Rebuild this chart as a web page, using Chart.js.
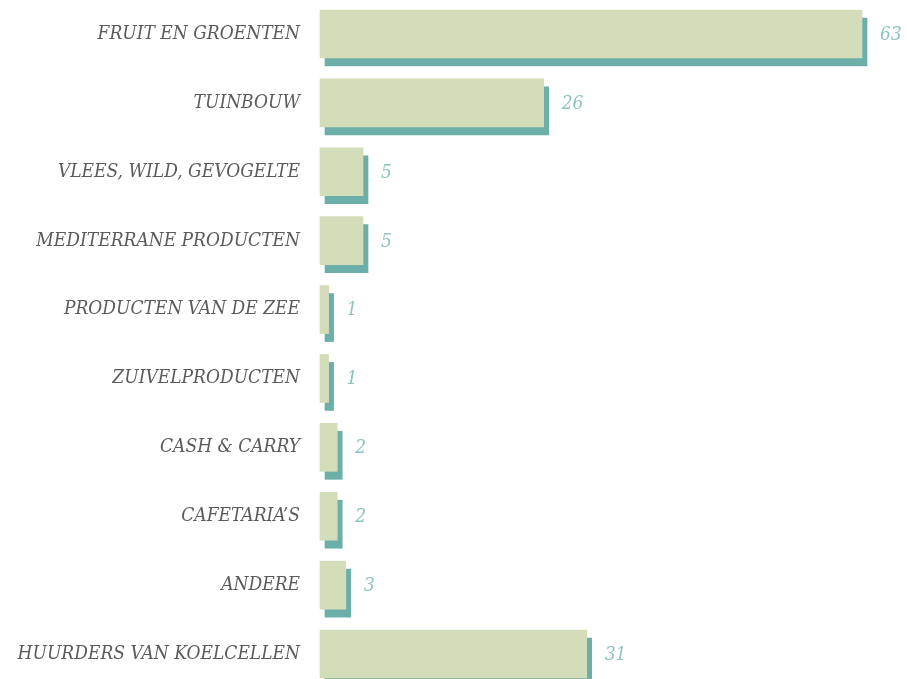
<!DOCTYPE html>
<html>
<head>
<meta charset="utf-8">
<script src="https://cdn.jsdelivr.net/npm/chart.js@4/dist/chart.umd.min.js"></script>
<style>
    html, body { margin: 0; padding: 0; background: #fff; }
    #wrap { width: 907px; height: 679px; }
</style>
</head>
<body>
<div id="wrap"><canvas id="barChart"></canvas></div>
<script>
// categories and counts, top to bottom
const categories = [
    "FRUIT EN GROENTEN",
    "TUINBOUW",
    "VLEES, WILD, GEVOGELTE",
    "MEDITERRANE PRODUCTEN",
    "PRODUCTEN VAN DE ZEE",
    "ZUIVELPRODUCTEN",
    "CASH & CARRY",
    "CAFETARIA\u2019S",
    "ANDERE",
    "HUURDERS VAN KOELCELLEN"
];
const counts = [63, 26, 5, 5, 1, 1, 2, 2, 3, 31];

const barColor = '#d4ddb9';
const shadowColor = '#6cafa9';
const labelColor = '#5b5b5b';
const valueColor = '#8cc4bf';
const fontFamily = "'DejaVu Serif Condensed', 'DejaVu Serif', serif";

// shift the shadow dataset down and to the right
const shadowPlugin = {
    id: 'shadowOffset',
    beforeDatasetDraw(chart, args) {
        if (args.index === 1) {
            chart.ctx.save();
            chart.ctx.translate(5, 8);
        }
    },
    afterDatasetDraw(chart, args) {
        if (args.index === 1) {
            chart.ctx.restore();
        }
    }
};

// value labels at the end of each bar
const valueLabels = {
    id: 'valueLabels',
    afterDatasetsDraw(chart) {
        const ctx = chart.ctx;
        const meta = chart.getDatasetMeta(0);
        ctx.save();
        ctx.font = 'italic 19px ' + fontFamily;
        ctx.fillStyle = valueColor;
        ctx.textAlign = 'left';
        ctx.textBaseline = 'middle';
        meta.data.forEach((bar, i) => {
            ctx.fillText(String(counts[i]), bar.x + 18, bar.y + 1);
        });
        ctx.restore();
    }
};

const ctx = document.getElementById('barChart').getContext('2d');
new Chart(ctx, {
    type: 'bar',
    data: {
        labels: categories,
        datasets: [
            {
                data: counts,
                backgroundColor: barColor,
                barThickness: 48,
                clip: false
            },
            {
                data: counts,
                backgroundColor: shadowColor,
                barThickness: 48,
                clip: false
            }
        ]
    },
    options: {
        indexAxis: 'y',
        responsive: true,
        maintainAspectRatio: false,
        animation: false,
        layout: {
            padding: { top: 34, bottom: 25, left: 0, right: 45 }
        },
        plugins: {
            legend: { display: false },
            tooltip: { enabled: false }
        },
        scales: {
            x: {
                display: false,
                min: 0,
                max: 63
            },
            y: {
                stacked: true,
                offset: false,
                grid: { display: false, drawTicks: false, offset: false },
                border: { display: false },
                afterFit(scale) {
                    scale.width = 320;
                    scale.paddingTop = 0;
                    scale.paddingBottom = 0;
                },
                ticks: {
                    padding: 20,
                    color: labelColor,
                    font: { family: fontFamily, size: 19, style: 'italic' }
                }
            }
        }
    },
    plugins: [shadowPlugin, valueLabels]
});
</script>
</body>
</html>
